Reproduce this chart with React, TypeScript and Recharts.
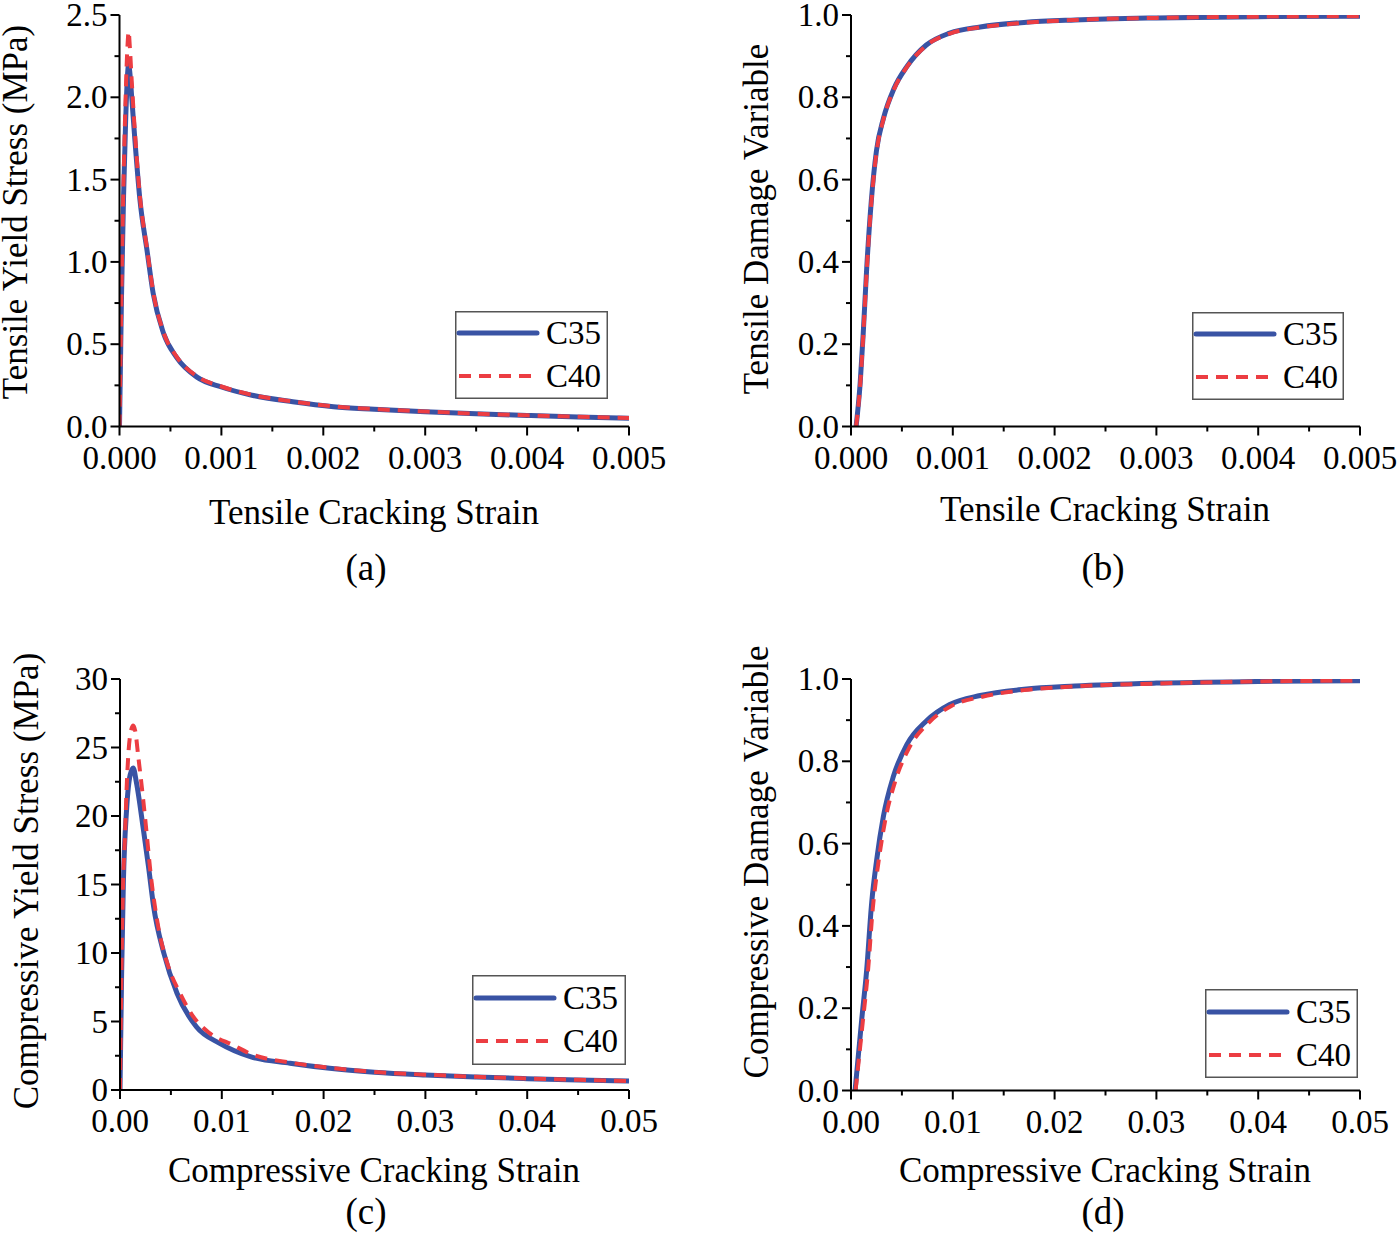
import React from 'react';
import { LineChart, Line, XAxis, YAxis, Legend } from 'recharts';

const FONT = '"Liberation Serif", "Times New Roman", serif';
const BLUE = '#3953a4';
const RED = '#ec3d42';

// ---------- (a) tensile yield stress ----------
const aStrainC35 = [0, 0.00001, 0.00002, 0.00004, 0.00006, 0.00008, 0.00009, 0.0001, 0.00012, 0.00015, 0.0002, 0.00027, 0.00033, 0.00043, 0.00056, 0.00076, 0.001, 0.0013, 0.0017, 0.0021, 0.0025, 0.003, 0.0035, 0.004, 0.0045, 0.005];
const aStressC35 = [0, 0.4, 0.8, 1.4, 1.85, 2.15, 2.2, 2.16, 2.0, 1.75, 1.38, 1.07, 0.81, 0.57, 0.42, 0.3, 0.24, 0.19, 0.15, 0.12, 0.105, 0.09, 0.077, 0.067, 0.058, 0.05];
const aStrainC40 = [0, 0.00001, 0.00002, 0.00004, 0.00006, 0.00008, 0.00009, 0.0001, 0.00012, 0.00015, 0.0002, 0.00027, 0.00033, 0.00043, 0.00056, 0.00076, 0.001, 0.0013, 0.0017, 0.0021, 0.0025, 0.003, 0.0035, 0.004, 0.0045, 0.005];
const aStressC40 = [0, 0.42, 0.85, 1.5, 2.0, 2.33, 2.4, 2.32, 2.1, 1.8, 1.4, 1.08, 0.82, 0.575, 0.425, 0.305, 0.243, 0.192, 0.152, 0.122, 0.106, 0.091, 0.078, 0.068, 0.059, 0.051];

// ---------- (b) tensile damage ----------
const bStrainC35 = [0.00005, 0.00009, 0.00012, 0.000155, 0.0002, 0.00025, 0.00032, 0.00042, 0.00055, 0.00074, 0.00097, 0.00127, 0.0017, 0.0022, 0.003, 0.004, 0.005];
const bDamageC35 = [0, 0.105, 0.226, 0.388, 0.55, 0.67, 0.75, 0.82, 0.875, 0.927, 0.956, 0.971, 0.982, 0.988, 0.993, 0.996, 0.997];
const bStrainC40 = [0.00005, 0.00009, 0.00012, 0.000155, 0.0002, 0.00025, 0.00032, 0.00042, 0.00055, 0.00074, 0.00097, 0.00127, 0.0017, 0.0022, 0.003, 0.004, 0.005];
const bDamageC40 = [0, 0.1, 0.22, 0.38, 0.545, 0.665, 0.748, 0.818, 0.874, 0.926, 0.955, 0.97, 0.981, 0.988, 0.993, 0.996, 0.997];

// ---------- (c) compressive yield stress ----------
const cStrainC35 = [0, 0.00016, 0.00033, 0.00065, 0.001, 0.0013, 0.0016, 0.0023, 0.0028, 0.0033, 0.0043, 0.0056, 0.0075, 0.0098, 0.0128, 0.0167, 0.0206, 0.025, 0.03, 0.035, 0.04, 0.045, 0.05];
const cStressC35 = [0, 8.5, 15.1, 20.5, 23.0, 23.5, 22.5, 19.0, 16.3, 13.4, 10.0, 7.06, 4.62, 3.4, 2.43, 1.95, 1.58, 1.3, 1.1, 0.95, 0.83, 0.73, 0.65];
const cStrainC40 = [0, 0.00015, 0.0003, 0.00049, 0.00065, 0.00082, 0.0011, 0.0013, 0.0015, 0.0018, 0.0021, 0.00246, 0.0031, 0.00376, 0.00475, 0.0059, 0.0072, 0.0088, 0.0111, 0.0128, 0.0167, 0.0206, 0.025, 0.03, 0.035, 0.04, 0.045, 0.05];
const cStressC40 = [0, 9, 15, 18.5, 22, 24.5, 26.3, 26.6, 26.2, 24.3, 22.4, 19.9, 15.2, 11.9, 9.0, 7.06, 5.35, 4.15, 3.28, 2.65, 2.0, 1.62, 1.32, 1.12, 0.96, 0.84, 0.74, 0.66];

// ---------- (d) compressive damage ----------
const dStrainC35 = [0.0004, 0.00105, 0.00154, 0.00203, 0.00252, 0.00318, 0.00416, 0.00547, 0.0074, 0.0097, 0.0127, 0.017, 0.022, 0.03, 0.04, 0.05];
const dDamageC35 = [0, 0.172, 0.293, 0.456, 0.56, 0.666, 0.763, 0.84, 0.898, 0.938, 0.96, 0.975, 0.983, 0.99, 0.994, 0.996];
const dStrainC40 = [0.00045, 0.00115, 0.00165, 0.00215, 0.00267, 0.00335, 0.00435, 0.0057, 0.0076, 0.0099, 0.0129, 0.017, 0.022, 0.03, 0.04, 0.05];
const dDamageC40 = [0, 0.165, 0.285, 0.445, 0.55, 0.655, 0.752, 0.832, 0.893, 0.935, 0.957, 0.973, 0.982, 0.989, 0.994, 0.996];

// ---------- ticks ----------
const xMajorTensile = [0, 0.001, 0.002, 0.003, 0.004, 0.005];
const xMinorTensile = [0.0005, 0.0015, 0.0025, 0.0035, 0.0045];
const xMajorComp = [0, 0.01, 0.02, 0.03, 0.04, 0.05];
const xMinorComp = [0.005, 0.015, 0.025, 0.035, 0.045];
const yMajorA = [0, 0.5, 1.0, 1.5, 2.0, 2.5];
const yMinorA = [0.25, 0.75, 1.25, 1.75, 2.25];
const yMajorDamage = [0, 0.2, 0.4, 0.6, 0.8, 1.0];
const yMinorDamage = [0.1, 0.3, 0.5, 0.7, 0.9];
const yMajorC = [0, 5, 10, 15, 20, 25, 30];
const yMinorC = [2.5, 7.5, 12.5, 17.5, 22.5, 27.5];

const seriesNames = ['C35', 'C40'];

const TICK_FS = 33;
const TITLE_FS = 35;
const LETTER_FS = 37;

const zip = (xs: number[], ys: number[]) => xs.map((x, i) => ({ x, y: ys[i] }));

const isIn = (arr: number[], v: number) => arr.some((m) => Math.abs(m - v) < 1e-9);

const makeXTick = (major: number[], digits: number) => (props: any) => {
  const { x, y, payload } = props;
  const maj = isIn(major, payload.value);
  return (
    <g>
      <line x1={x} x2={x} y1={y} y2={y + (maj ? 9 : 5)} stroke="#000" strokeWidth={2} />
      {maj && (
        <text x={x} y={y + 42} textAnchor="middle" fontFamily={FONT} fontSize={TICK_FS} fill="#000">
          {Number(payload.value).toFixed(digits)}
        </text>
      )}
    </g>
  );
};

const makeYTick = (major: number[], digits: number) => (props: any) => {
  const { x, y, payload } = props;
  const maj = isIn(major, payload.value);
  return (
    <g>
      <line x1={x} x2={x - (maj ? 9 : 5)} y1={y} y2={y} stroke="#000" strokeWidth={2} />
      {maj && (
        <text x={x - 12} y={y + 11} textAnchor="end" fontFamily={FONT} fontSize={TICK_FS} fill="#000">
          {Number(payload.value).toFixed(digits)}
        </text>
      )}
    </g>
  );
};

type Box = { left: number; top: number; width: number; height: number; row1: number; row2: number };

const LegendBox = ({ box }: { box: Box }) => (
  <svg width={box.width} height={box.height} style={{ display: 'block' }}>
    <rect x={0.75} y={0.75} width={box.width - 1.5} height={box.height - 1.5} fill="#fff" stroke="#555" strokeWidth={1.5} />
    <line x1={4} x2={82} y1={box.row1} y2={box.row1} stroke={BLUE} strokeWidth={5} strokeLinecap="round" />
    <text x={91} y={box.row1 + 11} fontFamily={FONT} fontSize={33} fill="#000">{seriesNames[0]}</text>
    <line x1={4} x2={82} y1={box.row2} y2={box.row2} stroke={RED} strokeWidth={4} strokeDasharray="12 8" />
    <text x={91} y={box.row2 + 11} fontFamily={FONT} fontSize={33} fill="#000">{seriesNames[1]}</text>
  </svg>
);

type PanelProps = {
  left: number;
  top: number;
  margin: { top: number; right: number; bottom: number; left: number };
  xDomain: [number, number];
  xMajor: number[];
  xMinor: number[];
  xDigits: number;
  yDomain: [number, number];
  yMajor: number[];
  yMinor: number[];
  yDigits: number;
  c35: { x: number; y: number }[];
  c40: { x: number; y: number }[];
  legend: Box;
};

const Panel = (p: PanelProps) => {
  const xTicks = [...p.xMajor, ...p.xMinor].sort((a, b) => a - b);
  const yTicks = [...p.yMajor, ...p.yMinor].sort((a, b) => a - b);
  return (
    <div style={{ position: 'absolute', left: p.left, top: p.top, width: 700, height: 626 }}>
      <LineChart width={700} height={626} margin={p.margin} style={{ overflow: 'visible' }}>
        <XAxis
          type="number"
          dataKey="x"
          domain={p.xDomain}
          ticks={xTicks}
          interval={0}
          tickSize={0}
          tickMargin={0}
          tickLine={false}
          height={40}
          axisLine={{ stroke: '#000', strokeWidth: 2 }}
          tick={makeXTick(p.xMajor, p.xDigits)}
          allowDataOverflow
        />
        <YAxis
          type="number"
          domain={p.yDomain}
          ticks={yTicks}
          interval={0}
          tickSize={0}
          tickMargin={0}
          tickLine={false}
          width={60}
          axisLine={{ stroke: '#000', strokeWidth: 2 }}
          tick={makeYTick(p.yMajor, p.yDigits)}
          allowDataOverflow
        />
        <Legend
          layout="vertical"
          align="center"
          verticalAlign="middle"
          wrapperStyle={{ position: 'absolute', left: p.legend.left, top: p.legend.top, width: p.legend.width, height: p.legend.height }}
          content={() => <LegendBox box={p.legend} />}
        />
        <Line
          data={p.c35}
          dataKey="y"
          name={seriesNames[0]}
          type="monotone"
          stroke={BLUE}
          strokeWidth={5}
          dot={false}
          activeDot={false}
          isAnimationActive={false}
        />
        <Line
          data={p.c40}
          dataKey="y"
          name={seriesNames[1]}
          type="monotone"
          stroke={RED}
          strokeWidth={4}
          strokeDasharray="12 8"
          dot={false}
          activeDot={false}
          isAnimationActive={false}
        />
      </LineChart>
    </div>
  );
};

const T = ({ x, y, size = TITLE_FS, rotate = false, children }: any) => (
  <text
    x={rotate ? 0 : x}
    y={rotate ? 0 : y}
    transform={rotate ? `translate(${x},${y}) rotate(-90)` : undefined}
    textAnchor="middle"
    fontFamily={FONT}
    fontSize={size}
    fill="#000"
  >
    {children}
  </text>
);

export default function App() {
  return (
    <div style={{ position: 'absolute', left: 0, top: 0, width: 1400, height: 1252, background: '#fff', overflow: 'hidden' }}>
      <Panel
        left={0}
        top={0}
        margin={{ top: 15, right: 71, bottom: 159.5, left: 59.5 }}
        xDomain={[0, 0.005]}
        xMajor={xMajorTensile}
        xMinor={xMinorTensile}
        xDigits={3}
        yDomain={[0, 2.5]}
        yMajor={yMajorA}
        yMinor={yMinorA}
        yDigits={1}
        c35={zip(aStrainC35, aStressC35)}
        c40={zip(aStrainC40, aStressC40)}
        legend={{ left: 455, top: 311, width: 153, height: 88, row1: 22, row2: 65 }}
      />
      <Panel
        left={700}
        top={0}
        margin={{ top: 15, right: 40, bottom: 159.5, left: 91 }}
        xDomain={[0, 0.005]}
        xMajor={xMajorTensile}
        xMinor={xMinorTensile}
        xDigits={3}
        yDomain={[0, 1]}
        yMajor={yMajorDamage}
        yMinor={yMinorDamage}
        yDigits={1}
        c35={zip(bStrainC35, bDamageC35)}
        c40={zip(bStrainC40, bDamageC40)}
        legend={{ left: 492, top: 312, width: 152, height: 88, row1: 22, row2: 65 }}
      />
      <Panel
        left={0}
        top={626}
        margin={{ top: 53, right: 71, bottom: 122, left: 60 }}
        xDomain={[0, 0.05]}
        xMajor={xMajorComp}
        xMinor={xMinorComp}
        xDigits={2}
        yDomain={[0, 30]}
        yMajor={yMajorC}
        yMinor={yMinorC}
        yDigits={0}
        c35={zip(cStrainC35, cStressC35)}
        c40={zip(cStrainC40, cStressC40)}
        legend={{ left: 472, top: 349, width: 154, height: 90, row1: 23, row2: 66 }}
      />
      <Panel
        left={700}
        top={626}
        margin={{ top: 53, right: 40, bottom: 121.5, left: 91 }}
        xDomain={[0, 0.05]}
        xMajor={xMajorComp}
        xMinor={xMinorComp}
        xDigits={2}
        yDomain={[0, 1]}
        yMajor={yMajorDamage}
        yMinor={yMinorDamage}
        yDigits={1}
        c35={zip(dStrainC35, dDamageC35)}
        c40={zip(dStrainC40, dDamageC40)}
        legend={{ left: 505, top: 363, width: 153, height: 89, row1: 23, row2: 66 }}
      />
      <svg width={1400} height={1252} style={{ position: 'absolute', left: 0, top: 0, pointerEvents: 'none' }}>
        <T x={374} y={524}>Tensile Cracking Strain</T>
        <T x={27} y={212} rotate>Tensile Yield Stress (MPa)</T>
        <T x={366} y={580} size={LETTER_FS}>(a)</T>
        <T x={1105} y={521}>Tensile Cracking Strain</T>
        <T x={768} y={219} rotate>Tensile Damage Variable</T>
        <T x={1103} y={580} size={LETTER_FS}>(b)</T>
        <T x={374} y={1182}>Compressive Cracking Strain</T>
        <T x={38} y={881} rotate>Compressive Yield Stress (MPa)</T>
        <T x={366} y={1224} size={LETTER_FS}>(c)</T>
        <T x={1105} y={1182}>Compressive Cracking Strain</T>
        <T x={768} y={862} rotate>Compressive Damage Variable</T>
        <T x={1103} y={1224} size={LETTER_FS}>(d)</T>
      </svg>
    </div>
  );
}
